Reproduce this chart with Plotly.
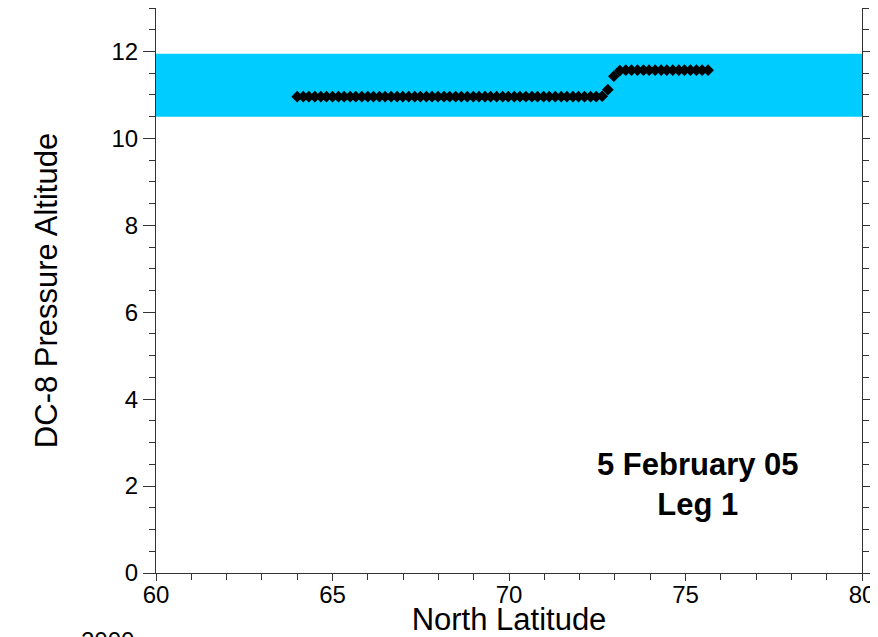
import plotly.graph_objects as go

# Data
latitude = [
    64.00, 64.17, 64.33, 64.50, 64.67, 64.83, 65.00, 65.17, 65.33, 65.50,
    65.66, 65.83, 66.00, 66.16, 66.33, 66.49, 66.66, 66.83, 66.99, 67.16,
    67.33, 67.49, 67.66, 67.82, 67.99, 68.16, 68.32, 68.49, 68.65, 68.82,
    68.99, 69.15, 69.32, 69.48, 69.65, 69.82, 69.98, 70.15, 70.31, 70.48,
    70.65, 70.81, 70.98, 71.14, 71.31, 71.48, 71.64, 71.81, 71.97, 72.14,
    72.31, 72.47, 72.64,
    72.80, 72.97,
    73.14, 73.31, 73.47, 73.64, 73.81, 73.97, 74.14, 74.31, 74.47, 74.64,
    74.81, 74.97, 75.14, 75.31, 75.47, 75.64,
]
altitude = [
    10.96, 10.96, 10.96, 10.96, 10.96, 10.96, 10.96, 10.96, 10.96, 10.96,
    10.96, 10.96, 10.96, 10.96, 10.96, 10.96, 10.96, 10.96, 10.96, 10.96,
    10.96, 10.96, 10.96, 10.96, 10.96, 10.96, 10.96, 10.96, 10.96, 10.96,
    10.96, 10.96, 10.96, 10.96, 10.96, 10.96, 10.96, 10.96, 10.96, 10.96,
    10.96, 10.96, 10.96, 10.96, 10.96, 10.96, 10.96, 10.96, 10.96, 10.96,
    10.96, 10.96, 10.97,
    11.12, 11.43,
    11.56, 11.57, 11.57, 11.57, 11.57, 11.57, 11.57, 11.57, 11.57, 11.57,
    11.57, 11.57, 11.57, 11.57, 11.57, 11.57,
]

band_bottom = 10.5
band_top = 11.95
x_range = [60, 80]
y_range = [0, 13]
x_ticks = [60, 65, 70, 75, 80]
y_ticks = [0, 2, 4, 6, 8, 10, 12]
annotation_text = "<b>5 February 05<br>Leg 1</b>"
footer_text = "2000"

FONT = "Liberation Sans, Arial, Helvetica, sans-serif"

fig = go.Figure()

fig.add_shape(
    type="rect", xref="x", yref="y",
    x0=x_range[0], x1=x_range[1], y0=band_bottom, y1=band_top,
    fillcolor="rgb(0,204,255)", line=dict(width=0), layer="below",
)

fig.add_trace(go.Scatter(
    x=latitude, y=altitude, mode="markers",
    marker=dict(symbol="diamond", size=9, color="black"),
    showlegend=False, cliponaxis=False,
))

fig.add_annotation(
    x=75.35, y=2.03, xref="x", yref="y", text=annotation_text,
    showarrow=False, font=dict(family=FONT, size=31, color="black"),
    align="center",
)
fig.add_annotation(
    x=-0.0687, y=-0.1186, xref="paper", yref="paper", text=footer_text,
    showarrow=False, font=dict(family=FONT, size=24, color="black"),
    xanchor="center", yanchor="middle",
)

# the page body adds an 8px margin, so the figure is sized to fit the window
fig.update_layout(
    width=870, height=629,
    margin=dict(l=148, r=16, t=0, b=64, autoexpand=False),
    paper_bgcolor="white", plot_bgcolor="white",
    font=dict(family=FONT, color="black"),
    showlegend=False,
)

fig.update_xaxes(
    range=x_range, tickvals=x_ticks, showgrid=False, zeroline=False,
    automargin=False,
    showline=True, linecolor="#333", linewidth=1, mirror=False,
    ticks="outside", ticklen=7, tickcolor="#333",
    tickfont=dict(family=FONT, size=24), ticklabelstandoff=-7,
    minor=dict(dtick=1, ticks="outside", ticklen=6, tickcolor="#333"),
    title=dict(text="North Latitude", font=dict(family=FONT, size=31), standoff=4),
)
fig.update_yaxes(
    range=y_range, tickvals=y_ticks, showgrid=False, zeroline=False,
    automargin=False,
    showline=True, linecolor="#333", linewidth=1, mirror="ticks",
    ticks="outside", ticklen=12, tickcolor="#333",
    tickfont=dict(family=FONT, size=24),
    minor=dict(dtick=0.5, ticks="outside", ticklen=6, tickcolor="#333"),
    title=dict(text="DC-8 Pressure Altitude", font=dict(family=FONT, size=31), standoff=44),
)

fig.write_html("out.html")
